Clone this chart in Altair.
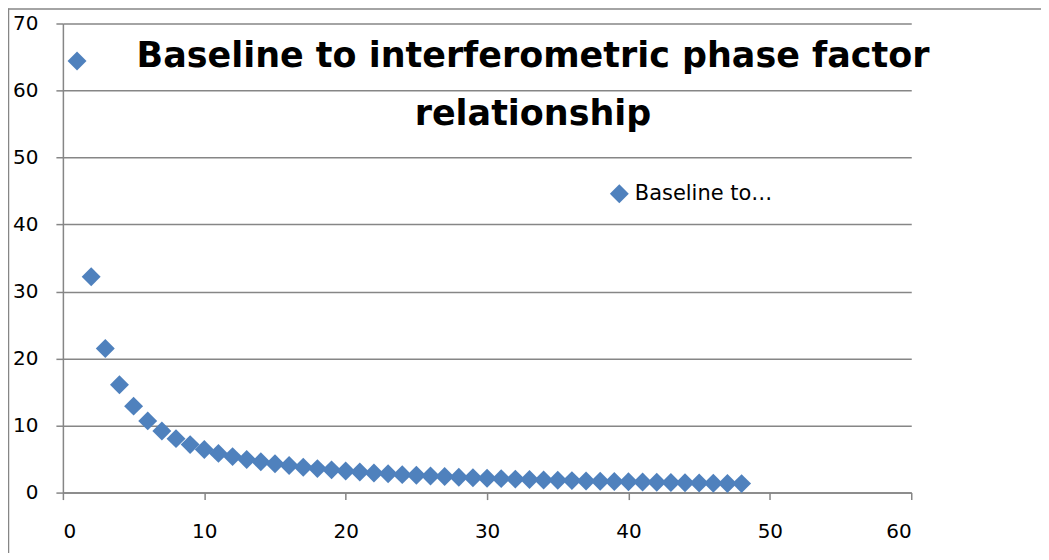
import altair as alt
import pandas as pd

# ---- data ----
x_vals = [1, 2, 3, 4, 5, 6, 7, 8, 9, 10, 11, 12, 13, 14, 15, 16,
          17, 18, 19, 20, 21, 22, 23, 24, 25, 26, 27, 28, 29, 30, 31, 32,
          33, 34, 35, 36, 37, 38, 39, 40, 41, 42, 43, 44, 45, 46, 47, 48]
y_vals = [64.4, 32.2, 21.5, 16.1, 12.9, 10.7, 9.2, 8.05, 7.16, 6.44, 5.85, 5.37,
          4.95, 4.6, 4.29, 4.03, 3.79, 3.58, 3.39, 3.22, 3.07, 2.93, 2.8, 2.68,
          2.58, 2.48, 2.39, 2.3, 2.22, 2.15, 2.08, 2.01, 1.95, 1.89, 1.84, 1.79,
          1.74, 1.69, 1.65, 1.61, 1.57, 1.53, 1.5, 1.46, 1.43, 1.4, 1.37, 1.34]
series_name = "Baseline to\u2026"
x_ticks = [0, 10, 20, 30, 40, 50, 60]
y_ticks = [0, 10, 20, 30, 40, 50, 60, 70]
title_lines = ["Baseline to interferometric phase factor", "relationship"]

FONT = "DejaVu Sans"
GRAY = "#868686"
BLUE = "#4F81BD"

df = pd.DataFrame({"x": x_vals, "y": y_vals, "series": [series_name] * len(x_vals)})

points = alt.Chart(df).mark_point(
    shape="diamond", filled=True, size=360, opacity=1
).encode(
    x=alt.X("x:Q", scale=alt.Scale(domain=[0, 60], nice=False),
            axis=alt.Axis(values=x_ticks, grid=False, title=None, labelPadding=22)),
    y=alt.Y("y:Q", scale=alt.Scale(domain=[0, 70], nice=False),
            axis=alt.Axis(values=y_ticks, grid=True, title=None, labelPadding=18)),
    color=alt.Color("series:N", scale=alt.Scale(range=[BLUE]),
                    legend=alt.Legend(title=None, orient="none", legendX=547, legendY=160,
                                      symbolType="diamond", symbolSize=360, padding=0,
                                      labelFont=FONT, labelFontSize=21, labelColor="black",
                                      labelOffset=5, labelLimit=400)),
)

title = alt.Chart(pd.DataFrame({"t": ["\n".join(title_lines)]})).mark_text(
    lineBreak="\n", font=FONT, fontWeight="bold", fontSize=35, lineHeight=58,
    align="center", baseline="alphabetic", color="black"
).encode(x=alt.value(471), y=alt.value(44), text="t:N")

frame_df = pd.DataFrame({"a": [0]})
frame_left = alt.Chart(frame_df).mark_rule(color=GRAY, strokeWidth=1.5).encode(
    x=alt.value(-54.5), y=alt.value(-15), y2=alt.value(600))
frame_top = alt.Chart(frame_df).mark_rule(color=GRAY, strokeWidth=1.5).encode(
    x=alt.value(-55), x2=alt.value(1100), y=alt.value(-14.5))

chart = alt.layer(frame_left, frame_top, points, title).properties(
    width=850, height=470,
    autosize=alt.AutoSizeParams(type="none"),
    padding={"left": 55, "top": 15, "right": 130, "bottom": 60},
).configure_view(stroke=None).configure_axis(
    labelFont=FONT, labelFontSize=20, labelColor="black",
    tickColor=GRAY, domainColor=GRAY, gridColor=GRAY, tickSize=7,
    domainWidth=1.5, gridWidth=1.5, tickWidth=1.5,
)

chart.save("out.html", embed_options={"renderer": "svg", "actions": False})
